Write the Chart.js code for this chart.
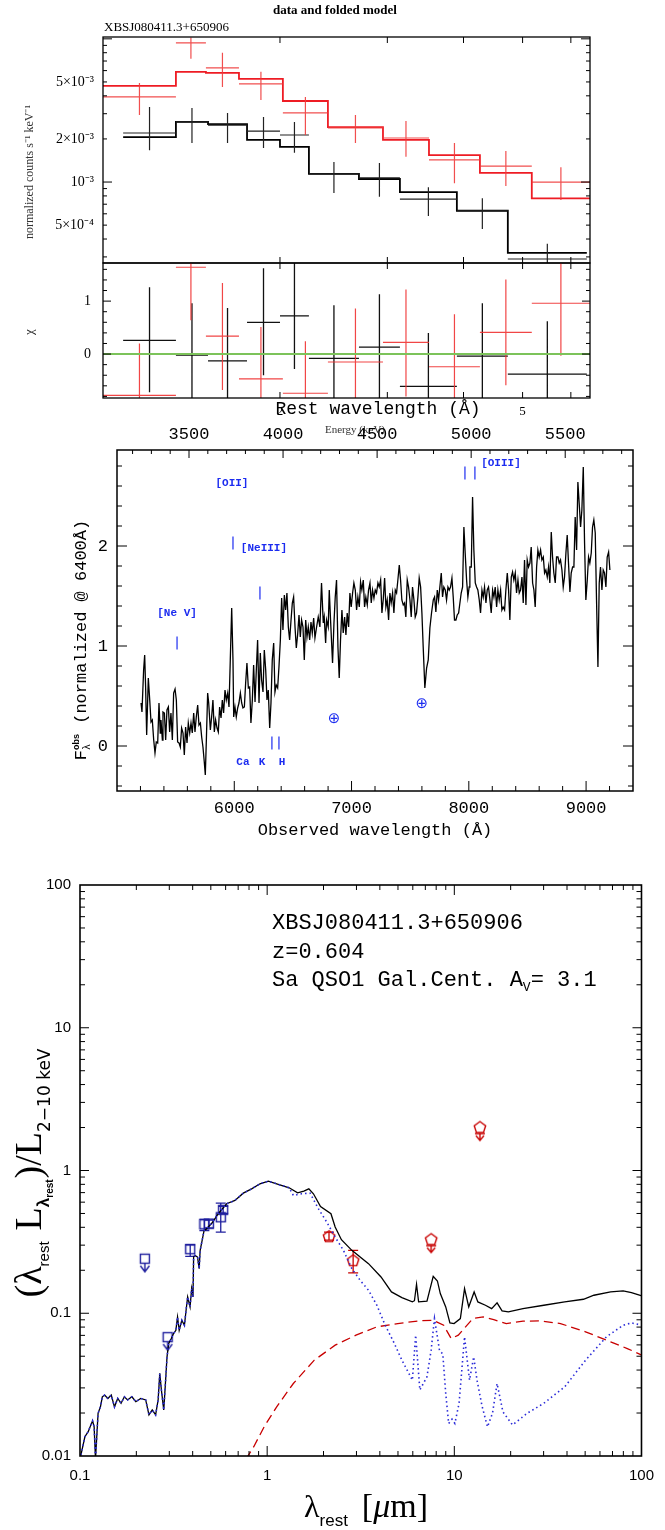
<!DOCTYPE html>
<html><head><meta charset="utf-8">
<script src="https://cdn.jsdelivr.net/npm/chart.js@4.4.1/dist/chart.umd.min.js"></script>
<style>
html,body{margin:0;padding:0;background:#fff;width:665px;height:1530px;overflow:hidden}
canvas{position:absolute;left:0}
</style></head><body>
<canvas id="cA" width="665" height="291" style="top:0px"></canvas>
<canvas id="cB" width="665" height="205" style="top:232px"></canvas>
<canvas id="cC" width="665" height="455" style="top:395px"></canvas>
<canvas id="cD" width="665" height="670" style="top:860px"></canvas>
<script>
// ---------------- X-ray spectrum (energy in keV) ----------------
const redEdges   = [1.025,1.350,1.512,1.713,2.022,2.397,2.951,3.511,4.256,5.177,6.45];
const redData    = [3.93e-3,9.38e-3,6.27e-3,4.84e-3,3.04e-3,2.39e-3,2.03e-3,1.43e-3,1.29e-3,1.00e-3];
const redErrHi   = [4.92e-3,1.02e-2,7.98e-3,5.88e-3,3.93e-3,2.94e-3,2.67e-3,1.87e-3,1.65e-3,1.27e-3];
const redErrLo   = [2.94e-3,7.25e-3,4.61e-3,3.74e-3,2.13e-3,1.87e-3,1.50e-3,0.98e-3,0.94e-3,0.75e-3];
const redModel   = [4.69e-3,5.88e-3,5.78e-3,5.25e-3,3.68e-3,2.42e-3,1.97e-3,1.54e-3,1.16e-3,0.77e-3];
const blackEdges = [1.106,1.350,1.524,1.766,2.000,2.231,2.695,3.146,3.901,4.729,6.373];
const blackData  = [2.20e-3,2.63e-3,2.50e-3,2.27e-3,2.13e-3,1.14e-3,1.07e-3,0.76e-3,0.63e-3,0.29e-3];
const blackErrHi = [3.34e-3,3.29e-3,3.04e-3,2.85e-3,2.63e-3,1.38e-3,1.36e-3,0.92e-3,0.77e-3,0.37e-3];
const blackErrLo = [1.67e-3,1.87e-3,1.87e-3,1.73e-3,1.60e-3,0.84e-3,0.79e-3,0.58e-3,0.47e-3,0.22e-3];
const blackModel = [2.06e-3,2.63e-3,2.54e-3,1.97e-3,1.76e-3,1.14e-3,1.05e-3,0.85e-3,0.63e-3,0.32e-3];
const blackRes   = [0.26,-0.02,-0.13,0.60,0.72,-0.08,0.13,-0.61,-0.04,-0.38];
const blackResHi = [1.26,0.96,0.87,1.62,1.75,0.92,1.13,0.40,0.96,0.62];
const blackResLo = [-0.72,-0.9,-0.9,-0.40,-0.28,-0.9,-0.9,-0.9,-0.9,-0.9];
const redRes     = [-0.78,1.64,0.34,-0.47,-0.74,-0.15,0.22,-0.24,0.41,0.96];
const redResHi   = [0.20,1.75,1.34,0.51,0.24,0.86,1.22,0.75,1.41,1.75];
const redResLo   = [-0.9,0.64,-0.68,-0.9,-0.9,-0.9,-0.80,-0.9,-0.59,-0.03];
const xrayYTicks  = [5e-4,1e-3,2e-3,5e-3];
const xrayYLabels = ['5×10⁻⁴','10⁻³','2×10⁻³','5×10⁻³'];
const energyTicks = [2,5];
const energyLabels = ['2','5'];
const resTicks = [0,1];

// ---------------- Optical spectrum ----------------
const Z = 0.604;
const specWave = [5205,5213,5227,5236,5244,5253,5267,5279,5290,5301,5313,5324,5335,5347,5358,5369,5375,5387,5392,5404,
5415,5426,5438,5449,5460,5472,5483,5495,5506,5517,5529,5540,5551,5563,5574,5585,5597,5608,5620,5631,
5642,5654,5665,5676,5688,5699,5711,5722,5733,5745,5753,5762,5773,5782,5796,5807,5818,5830,5841,5853,
5864,5875,5887,5898,5909,5921,5932,5944,5955,5966,5978,5989,5995,6006,6017,6029,6040,6052,6063,6074,
6086,6097,6108,6120,6131,6142,6154,6165,6177,6188,6199,6211,6222,6233,6245,6256,6268,6279,6290,6302,
6313,6324,6336,6347,6358,6370,6381,6393,6404,6415,6427,6438,6449,6461,6472,6484,6495,6506,6518,6529,
6540,6552,6563,6574,6586,6597,6609,6620,6631,6643,6654,6665,6677,6688,
6702,6716,6730,6744,6759,6767,6779,6787,6801,6810,6821,6838,6850,6861,6872,6884,6895,6906,6918,6929,
6941,6952,6963,6975,6986,6997,7009,7020,7032,7043,7054,7066,7077,7088,7100,7111,7122,7134,7145,7157,
7168,7179,7191,7202,7213,7225,7236,7248,7259,7270,7282,7293,7304,7316,7327,7338,7350,7361,7373,7384,
7395,7407,7418,7429,7441,7452,7463,7475,7486,7498,7509,7520,7532,7543,7554,7566,7577,7589,7600,7611,
7625,7640,7654,7668,7682,7697,7708,7719,7731,7742,7753,7765,7776,7787,7799,7810,7822,7833,7844,7856,
7867,7878,7890,7901,7913,7924,7935,7947,7958,7969,7981,7992,8003,
8009,8021,8032,8043,8055,8066,8077,8089,8100,8112,8123,8134,8146,8157,8168,8180,8191,8203,8214,8225,
8237,8248,8259,8271,8282,8293,8305,8316,8328,8339,8350,8362,8373,8384,8396,8407,8419,8430,8441,8453,
8464,8475,8487,8498,8509,8521,8532,8544,8555,8566,8578,8589,8600,8612,8623,8635,8646,8657,8669,8680,
8691,8703,8714,8725,8737,8748,8760,8771,8782,8794,8805,8816,8828,8839,8850,8862,8873,8885,8896,8907,
8919,8930,8941,8953,8964,8976,8987,8998,9010,9021,9032,9044,9055,9066,9078,9089,9101,9112,9123,9135,
9146,9157,9169,9180,9192,9203];
const specFlux = [0.43,0.34,0.76,0.91,0.59,0.11,0.68,0.46,0.24,0.26,0.06,-0.07,0.04,0.03,0.43,0.13,0.26,0.06,0.34,0.33,
0.06,0.36,0.39,0.14,0.33,0.06,0.53,0.57,0.46,0.04,0.03,-0.01,0.18,0.13,-0.09,0.19,0.03,0.23,0.13,0.23,
0.13,0.33,0.14,0.29,0.41,0.21,0.23,0.09,-0.01,-0.17,-0.29,0.06,0.53,0.43,0.16,0.29,0.46,0.14,0.26,0.18,
0.14,0.39,0.28,0.46,0.33,0.56,0.46,0.53,0.39,0.86,1.38,0.86,0.29,0.39,0.29,0.38,0.43,0.53,0.43,0.38,
0.39,0.63,0.83,0.58,0.59,0.23,0.46,0.81,0.44,0.76,1.06,0.43,0.93,0.66,0.54,0.96,0.76,0.46,0.56,0.18,
0.43,0.86,1.03,0.54,0.61,0.58,0.79,1.06,1.48,1.16,1.51,1.36,1.53,1.19,1.06,1.26,1.43,1.49,1.19,0.98,
1.11,1.31,1.09,1.26,1.19,0.86,1.26,1.09,1.19,1.06,1.24,1.13,1.28,1.08,
1.19,1.29,1.19,1.63,1.23,1.29,1.03,1.26,1.19,1.56,1.26,0.83,1.23,1.49,1.66,0.99,0.68,1.06,1.36,1.13,
1.29,1.11,1.33,1.19,1.53,1.39,1.53,1.63,1.56,1.36,1.49,1.39,1.64,1.56,1.66,1.39,1.49,1.41,1.56,1.63,
1.43,1.56,1.48,1.56,1.53,1.63,1.59,1.66,1.33,1.46,1.68,1.39,1.46,1.26,1.53,1.43,1.53,1.33,1.56,1.53,
1.66,1.81,1.66,1.46,1.41,1.43,1.29,1.66,1.59,1.46,1.29,1.59,1.46,1.29,1.33,1.49,1.68,1.59,1.33,0.99,
0.58,0.78,0.86,1.18,1.33,1.46,1.49,1.34,1.56,1.46,1.59,1.73,1.49,1.59,1.56,1.46,1.59,1.56,1.59,1.68,
1.49,1.26,1.26,1.31,1.33,1.43,1.53,1.59,2.19,1.93,1.66,1.49,1.59,
1.79,1.79,2.49,1.96,1.63,1.59,1.56,1.46,1.33,1.56,1.49,1.59,1.43,1.56,1.59,1.46,1.33,1.56,1.49,1.59,
1.39,1.56,1.46,1.56,1.36,1.39,1.36,1.56,1.73,1.56,1.26,1.69,1.74,1.66,1.73,1.53,1.66,1.53,1.56,1.69,
1.43,1.86,1.41,1.86,1.79,1.83,1.99,1.63,1.56,1.39,1.79,1.96,1.89,1.96,1.86,1.89,1.73,1.76,1.69,1.79,
1.63,2.14,1.89,1.73,1.63,1.89,1.89,1.83,1.86,1.76,1.59,1.69,1.93,2.11,1.83,1.54,1.73,1.79,1.79,2.29,
1.96,2.64,2.43,2.19,2.36,2.79,2.03,1.46,1.66,1.89,1.83,1.93,2.19,2.26,2.13,1.46,0.79,1.63,1.79,1.56,
1.76,1.73,1.59,1.89,1.94,1.76];
const obsTicks  = [6000,7000,8000,9000];
const restTicks = [3500,4000,4500,5000,5500];
const fluxTicks = [0,1,2];
const annoText  = ['[Ne V]','[OII]','[NeIII]','Ca','K','H','[OIII]'];
const annoWave  = [5512,5980,6253,6074,6236,6407,8274];
const annoFlux  = [1.33,2.63,1.98,-0.16,-0.16,-0.16,2.83];
const lineMarkWave = [5512,5989,6219,6321,6381,7967,8052];
const lineMarkFlux = [1.03,2.03,1.53,0.03,0.03,2.73,2.73];
const telluricWave = [6850,7600];
const telluricFlux = [0.27,0.42];

// ---------------- SED ----------------
const sedWave = [0.100,0.1062,0.1106,0.1167,0.119,0.121,0.1249,0.1286,0.1316,0.1354,
0.1409,0.1469,0.1528,0.1591,0.1657,0.1726,0.1796,0.1893,0.1987,0.2112,
0.2244,0.2336,0.2432,0.2535,0.2615,0.2668,0.2723,0.2802,0.2860,0.2917,
0.2978,0.3075,0.3162,0.3252,0.332,0.3388,0.3499,0.3614,0.3688,0.3760,
0.3873,0.3949,0.4015,0.4046,0.4113,0.4246,0.4333,0.4385,0.4494,0.4603,
0.4696,0.5072,0.548,0.6072,0.6729,0.7455,0.826,0.9156,1.0146,1.124,1.311,
1.454,1.570,1.670,1.767,1.928,2.192,
2.308,2.493,2.834,3.479,4.058,4.615,5.247,5.968,6.122,6.281,
6.444,7.142,7.714,8.120,8.416,8.997,9.471,9.97,10.77,11.34,
11.94,12.76,13.36,14.66,15.83,16.92,17.99,19.44,23.27,30.07,
38.88,48.98,55.7,68.4,79.8,88.4,100.5];
const sedTotal = [0.0095,0.01364,0.0148,0.01766,0.0160,0.0095,0.0199,0.0221,0.0260,0.0267,
0.0253,0.0267,0.0221,0.0253,0.0234,0.0260,0.0247,0.0260,0.0240,0.0253,
0.0247,0.0194,0.0210,0.0194,0.0247,0.0379,0.0289,0.0210,0.0322,0.0495,
0.0614,0.0665,0.0721,0.0760,0.0942,0.0760,0.0893,0.0824,0.1050,0.1300,
0.1107,0.1489,0.1300,0.2475,0.2544,0.2475,0.2054,0.2759,0.3239,0.3805,
0.3847,0.4285,0.4979,0.5848,0.617,0.694,0.744,0.807,0.842,0.807,0.757,
0.698,0.717,0.744,0.687,0.560,0.4979,
0.4016,0.3276,0.2759,0.2226,0.1795,0.1411,0.1288,0.1201,0.1224,0.1596,
0.1201,0.1217,0.1815,0.1683,0.1373,0.1108,0.0856,0.0847,0.0918,0.1488,
0.1108,0.1411,0.1201,0.1138,0.1078,0.1182,0.1039,0.1022,0.1078,0.1138,
0.1201,0.1253,0.1337,0.1411,0.1433,0.1396,0.1322];
const galWave = sedWave.slice(0,61).concat([1.380,1.530,1.696,1.878,2.082,2.308,2.556,2.834,3.140,3.479,
3.856,4.272,4.735,5.247,5.968,6.216,6.544,7.142,7.518,7.834,8.331,8.679,8.997,9.326,9.72,10.07,10.60,11.34,11.69,12.06,
12.69,13.22,14.06,15.04,15.99,16.92,18.18,20.46,24.49,30.07,38.88,50.25,64.97,79.8,88.4,100.5]);
const galFlux = sedTotal.slice(0,61).concat([0.669,0.687,0.694,0.540,0.435,0.342,0.2759,0.2053,0.1702,0.1449,
0.1138,0.0824,0.0631,0.0469,0.0340,0.0702,0.0290,0.0359,0.0551,0.0918,0.0551,0.0517,0.0274,0.0169,0.0181,0.0169,0.0234,0.0684,0.0482,0.0340,
0.0495,0.0340,0.0224,0.0160,0.0199,0.0322,0.0204,0.0165,0.0199,0.0234,0.0305,0.0469,0.0684,0.0824,0.0856,0.0824]);
const torusWave = [0.77,0.848,0.964,1.124,1.380,1.785,2.308,2.983,3.856,4.985,6.444,7.714,8.77,9.62,10.50,12.56,14.28,16.24,18.95,23.27,28.57,36.93,50.25,68.4,84.0,100.5];
const torusFlux = [0.0095,0.01162,0.01604,0.0221,0.0322,0.0469,0.0598,0.0702,0.0803,0.0847,0.0884,0.0894,0.0824,0.0665,0.0702,0.0918,0.0943,0.0903,0.0847,0.0880,0.0884,0.0847,0.0741,0.0631,0.0566,0.0509];
const optWave = [0.388,0.462,0.488,0.565,0.582];
const optVal  = [0.281,0.420,0.425,0.470,0.530];
const optLo   = [0.250,0.380,0.395,0.370,0.500];
const optHi   = [0.302,0.455,0.450,0.590,0.560];
const optLimWave = [0.222,0.294];
const optLimVal  = [0.241,0.068];
const irWave = [2.14,2.88];
const irVal  = [0.346,0.235];
const irLo   = [0.325,0.192];
const irHi   = [0.370,0.276];
const irLimWave = [7.52,13.7];
const irLimVal  = [0.328,2.0];
const sedXTicks = [0.1,1,10,100];
const sedXLabels = ['0.1','1','10','100'];
const sedYTicks = [0.01,0.1,1,10,100];
const sedYLabels = ['0.01','0.1','1','10','100'];

// ---------------- helpers ----------------
const BLUE_TXT = '#1c2cf0', BLUE = '#1f1f9e', RED = '#c80000';
const pts = (xs, ys) => xs.map((x,i)=>({x:x, y:ys[i]}));
function stepLine(edges, vals){ const p=[]; vals.forEach((v,i)=>{p.push({x:edges[i],y:v},{x:edges[i+1],y:v});}); return p; }
function crossSegs(edges, vals, lo, hi){ const p=[]; vals.forEach((v,i)=>{ const c=Math.sqrt(edges[i]*edges[i+1]);
  p.push({x:edges[i],y:v},{x:edges[i+1],y:v},{x:edges[i+1],y:null},{x:c,y:lo[i]},{x:c,y:hi[i]},{x:c,y:null}); }); return p; }
const fixW = w => s => { s.width = w; };
const fixH = h => s => { s.height = h; };
const setTicks = arr => s => { s.ticks = arr.map(v=>({value:v})); };
function logT(min,max,maj,mnr){ const o=[]; for(let e=Math.floor(Math.log10(min))-1;e<=Math.ceil(Math.log10(max));e++){ for(let k=1;k<10;k++){ const v=k*Math.pow(10,e); if(v>=min*0.999&&v<=max*1.001) o.push([v,k===1?maj:mnr]); } } return o; }
function linT(min,max,step,majStep,maj,mnr){ const o=[]; for(let k=Math.ceil(min/step-1e-9);k*step<=max+1e-9;k++){ const v=k*step; const r=v/majStep; o.push([v,Math.abs(r-Math.round(r))<1e-6?maj:mnr]); } return o; }
function framePlugin(cfg){ return { id:'frame', afterDraw(chart){ const ctx=chart.ctx, a=chart.chartArea;
  const xs=chart.scales.x, ys=chart.scales.y, ts=cfg.topScale?chart.scales[cfg.topScale]:xs;
  ctx.save(); ctx.strokeStyle='#000'; ctx.lineWidth=cfg.lw||1.5;
  ctx.strokeRect(a.left,a.top,a.right-a.left,a.bottom-a.top);
  ctx.lineWidth=cfg.tw||1; ctx.beginPath();
  (cfg.bottom||[]).forEach(([v,l])=>{const p=xs.getPixelForValue(v); if(p<a.left+1||p>a.right-1)return; ctx.moveTo(p,a.bottom); ctx.lineTo(p,a.bottom-l);});
  (cfg.top||[]).forEach(([v,l])=>{const p=ts.getPixelForValue(v); if(p<a.left+1||p>a.right-1)return; ctx.moveTo(p,a.top); ctx.lineTo(p,a.top+l);});
  (cfg.left||[]).forEach(([v,l])=>{const p=ys.getPixelForValue(v); if(p<a.top+1||p>a.bottom-1)return; ctx.moveTo(a.left,p); ctx.lineTo(a.left+l,p);});
  (cfg.right||[]).forEach(([v,l])=>{const p=ys.getPixelForValue(v); if(p<a.top+1||p>a.bottom-1)return; ctx.moveTo(a.right,p); ctx.lineTo(a.right-l,p);});
  ctx.stroke(); ctx.restore(); } }; }
function txt(ctx,s,x,y,font,color,align,base,rot){ ctx.save(); ctx.translate(x,y); if(rot) ctx.rotate(rot);
  ctx.font=font; ctx.fillStyle=color||'#000'; ctx.textAlign=align||'left'; ctx.textBaseline=base||'alphabetic'; ctx.fillText(s,0,0); ctx.restore(); }
function rich(ctx,parts,x,y,rot,align,color){ ctx.save(); ctx.translate(x,y); if(rot) ctx.rotate(rot);
  ctx.textAlign='left'; ctx.textBaseline='alphabetic'; ctx.fillStyle=color||'#000';
  let w=0; parts.forEach(p=>{ctx.font=p.f; if(p.adv!==false) w+=ctx.measureText(p.t).width+(p.gap||0);});
  let cx = align==='left'?0:-w/2;
  parts.forEach(p=>{ctx.font=p.f; ctx.fillText(p.t,cx,p.dy||0); if(p.adv!==false) cx+=ctx.measureText(p.t).width+(p.gap||0);});
  ctx.restore(); }
const baseOpts = () => ({ animation:false, responsive:false, events:[], plugins:{legend:{display:false}, tooltip:{enabled:false}} });
const tickFont = (fam,size) => ({font:{family:fam,size:size}, color:'#000', autoSkip:false, maxRotation:0});
const noGrid = {display:false, drawTicks:false};

// ---------------- Chart A : data and folded model ----------------
const eTicks = [[2,6],[3,6],[4,6],[5,6],[6,6]];
new Chart(document.getElementById('cA'), {
  type:'scatter',
  data:{datasets:[
    {data:crossSegs(redEdges,redData,redErrLo,redErrHi), showLine:true, spanGaps:false, borderColor:'rgba(240,60,60,0.9)', borderWidth:1.2, pointRadius:0},
    {data:stepLine(redEdges,redModel), showLine:true, borderColor:'#ee1c24', borderWidth:1.8, pointRadius:0},
    {data:crossSegs(blackEdges,blackData,blackErrLo,blackErrHi), showLine:true, spanGaps:false, borderColor:'#222', borderWidth:1.2, pointRadius:0},
    {data:stepLine(blackEdges,blackModel), showLine:true, borderColor:'#000', borderWidth:1.8, pointRadius:0}
  ]},
  options:Object.assign(baseOpts(), {
    layout:{padding:{left:0,right:75,top:37,bottom:28}},
    scales:{
      x:{type:'logarithmic', min:1.025, max:6.45, display:false},
      y:{type:'logarithmic', min:2.72e-4, max:1.03e-2, afterFit:fixW(103), afterBuildTicks:setTicks(xrayYTicks),
         grid:noGrid, border:{display:false}, ticks:Object.assign(tickFont('Liberation Serif',14),{padding:9, callback:(v,i)=>xrayYLabels[i]})}
    }
  }),
  plugins:[framePlugin({lw:1.3, bottom:eTicks, top:eTicks, left:logT(2.72e-4,1.03e-2,9,4), right:logT(2.72e-4,1.03e-2,9,4)}),
    {id:'decorA', afterDraw(chart){ const ctx=chart.ctx;
      txt(ctx,'data and folded model',335,14,'bold 13px Liberation Serif','#000','center');
      txt(ctx,'XBSJ080411.3+650906',104,31,'13px Liberation Serif','#000','left');
      txt(ctx,'normalized counts s⁻¹ keV⁻¹',33,172,'12px Liberation Serif','#333','center','alphabetic',-Math.PI/2);
    }}]
});

// ---------------- Chart B : residuals ----------------
new Chart(document.getElementById('cB'), {
  type:'scatter',
  data:{datasets:[
    {data:[{x:1.025,y:0},{x:6.45,y:0}], showLine:true, borderColor:'#7cc35a', borderWidth:2, pointRadius:0},
    {data:crossSegs(redEdges,redRes,redResLo,redResHi), showLine:true, spanGaps:false, borderColor:'rgba(240,50,50,0.9)', borderWidth:1.2, pointRadius:0},
    {data:crossSegs(blackEdges,blackRes,blackResLo,blackResHi), showLine:true, spanGaps:false, borderColor:'#111', borderWidth:1.3, pointRadius:0}
  ]},
  options:Object.assign(baseOpts(), {
    layout:{padding:{left:0,right:75,top:31,bottom:0}},
    scales:{
      x:{type:'logarithmic', min:1.025, max:6.45, afterFit:fixH(39), afterBuildTicks:setTicks(energyTicks), grid:noGrid, border:{display:false},
         ticks:Object.assign(tickFont('Liberation Serif',13),{padding:6, callback:(v,i)=>energyLabels[i]})},
      y:{type:'linear', min:-0.83, max:1.72, afterFit:fixW(103), afterBuildTicks:setTicks(resTicks), grid:noGrid, border:{display:false},
         ticks:Object.assign(tickFont('Liberation Serif',14),{padding:12, callback:v=>String(v)})}
    }
  }),
  plugins:[framePlugin({lw:1.3, bottom:eTicks, top:eTicks, left:linT(-0.83,1.72,0.2,1,8,4), right:linT(-0.83,1.72,0.2,1,8,4)}),
    {id:'decorB', afterDraw(chart){ const ctx=chart.ctx;
      txt(ctx,'χ',33,100,'13px Liberation Serif','#222','center','alphabetic',-Math.PI/2);
      txt(ctx,'Energy (keV)',355,201,'11px Liberation Serif','#333','center');
    }}]
});

// ---------------- Chart C : optical spectrum ----------------
new Chart(document.getElementById('cC'), {
  type:'scatter',
  data:{datasets:[
    {data:pts(specWave,specFlux), showLine:true, borderColor:'#000', borderWidth:1.3, pointRadius:0, xAxisID:'x', yAxisID:'y'}
  ]},
  options:Object.assign(baseOpts(), {
    layout:{padding:{left:0,right:32,top:0,bottom:0}},
    scales:{
      x:{type:'linear', position:'bottom', min:5000, max:9400, afterFit:fixH(59), afterBuildTicks:setTicks(obsTicks), grid:noGrid, border:{display:false},
         ticks:Object.assign(tickFont('Liberation Mono',17),{padding:7, callback:v=>String(v)})},
      x2:{type:'linear', position:'top', min:5000/(1+Z), max:9400/(1+Z), afterFit:fixH(55), afterBuildTicks:setTicks(restTicks), grid:noGrid, border:{display:false},
         ticks:Object.assign(tickFont('Liberation Mono',17),{padding:5, callback:v=>String(v)})},
      y:{type:'linear', min:-0.45, max:2.96, afterFit:fixW(117), afterBuildTicks:setTicks(fluxTicks), grid:noGrid, border:{display:false},
         ticks:Object.assign(tickFont('Liberation Mono',17),{padding:9, callback:v=>String(v)})}
    }
  }),
  plugins:[framePlugin({lw:1.5, topScale:'x2', bottom:linT(5000,9400,200,1000,10,5), top:linT(5000/(1+Z),9400/(1+Z),100,500,8,4),
      left:linT(-0.45,2.96,0.2,1,10,5), right:linT(-0.45,2.96,0.2,1,10,5)}),
    {id:'decorC', afterDraw(chart){ const ctx=chart.ctx, xs=chart.scales.x, ys=chart.scales.y;
      annoText.forEach((t,i)=>txt(ctx,t,xs.getPixelForValue(annoWave[i]),ys.getPixelForValue(annoFlux[i]),'bold 11px Liberation Mono',BLUE_TXT,'center','middle'));
      ctx.save(); ctx.strokeStyle=BLUE_TXT; ctx.lineWidth=1.2;
      lineMarkWave.forEach((w,i)=>{ const X=xs.getPixelForValue(w), Y=ys.getPixelForValue(lineMarkFlux[i]); ctx.beginPath(); ctx.moveTo(X,Y-6.5); ctx.lineTo(X,Y+6.5); ctx.stroke(); });
      ctx.restore();
      telluricWave.forEach((w,i)=>txt(ctx,'⊕',xs.getPixelForValue(w),ys.getPixelForValue(telluricFlux[i]),'15px DejaVu Sans',BLUE_TXT,'center','middle'));
      txt(ctx,'Rest wavelength (Å)',378,19,'18px Liberation Mono','#000','center');
      txt(ctx,'Observed wavelength (Å)',375,440,'17px Liberation Mono','#000','center');
      rich(ctx,[{t:'F',f:'17px Liberation Mono'},{t:'λ',f:'10px Liberation Mono',dy:4,adv:false},{t:'obs',f:'bold 9px Liberation Sans',dy:-7,gap:0},
        {t:' (normalized @ 6400Å)',f:'17px Liberation Mono'}],86,245,-Math.PI/2,'center');
    }}]
});

// ---------------- Chart D : SED ----------------
function mk(w,h,draw){ const c=document.createElement('canvas'); c.width=w; c.height=h; const g=c.getContext('2d'); draw(g); return c; }
function pent(g,cx,cy,r){ g.beginPath(); for(let k=0;k<5;k++){ const an=-Math.PI/2+k*2*Math.PI/5; const X=cx+r*Math.cos(an), Y=cy+r*Math.sin(an); if(k) g.lineTo(X,Y); else g.moveTo(X,Y);} g.closePath(); g.stroke(); }
const imgSquare = mk(12,12,g=>{g.strokeStyle=BLUE; g.lineWidth=1.4; g.strokeRect(1.5,1.5,9,9);});
const imgSquareLim = mk(14,36,g=>{g.strokeStyle=BLUE; g.lineWidth=1.4; g.strokeRect(2.5,13.5,9,9);
  g.beginPath(); g.moveTo(7,22.5); g.lineTo(7,31); g.moveTo(2.5,25); g.lineTo(7,31); g.lineTo(11.5,25); g.stroke();});
const imgPent = mk(16,16,g=>{g.strokeStyle=RED; g.lineWidth=1.4; pent(g,8,8.5,6);});
const imgPentLim = mk(16,40,g=>{g.strokeStyle=RED; g.lineWidth=1.4; pent(g,8,20,6);
  g.beginPath(); g.moveTo(3,26); g.lineTo(13,26); g.moveTo(8,26); g.lineTo(8,33); g.moveTo(4,28); g.lineTo(8,33); g.lineTo(12,28); g.stroke();});
const errPlugin = {id:'errbars', beforeDatasetsDraw(chart){ const ctx=chart.ctx, xs=chart.scales.x, ys=chart.scales.y;
  chart.data.datasets.forEach(ds=>{ if(!ds.errLo) return; ctx.save(); ctx.strokeStyle=ds.errColor; ctx.lineWidth=1.3; ctx.beginPath();
    ds.data.forEach((p,i)=>{ const X=xs.getPixelForValue(p.x), y1=ys.getPixelForValue(ds.errLo[i]), y2=ys.getPixelForValue(ds.errHi[i]);
      ctx.moveTo(X,y1); ctx.lineTo(X,y2); ctx.moveTo(X-5,y1); ctx.lineTo(X+5,y1); ctx.moveTo(X-5,y2); ctx.lineTo(X+5,y2); });
    ctx.stroke(); ctx.restore(); }); }};
new Chart(document.getElementById('cD'), {
  type:'scatter',
  data:{datasets:[
    {data:pts(galWave,galFlux), showLine:true, borderColor:'#2a2ad8', borderWidth:1.6, borderDash:[1.5,3], pointRadius:0},
    {data:pts(torusWave,torusFlux), showLine:true, borderColor:RED, borderWidth:1.3, borderDash:[9,5], pointRadius:0},
    {data:pts(sedWave,sedTotal), showLine:true, borderColor:'#000', borderWidth:1.3, pointRadius:0},
    {data:pts(optWave,optVal), showLine:false, pointStyle:imgSquare, pointRadius:5, errLo:optLo, errHi:optHi, errColor:BLUE},
    {data:pts(optLimWave,optLimVal), showLine:false, pointStyle:imgSquareLim, pointRadius:5},
    {data:pts(irWave,irVal), showLine:false, pointStyle:imgPent, pointRadius:5, errLo:irLo, errHi:irHi, errColor:RED},
    {data:pts(irLimWave,irLimVal), showLine:false, pointStyle:imgPentLim, pointRadius:5}
  ]},
  options:Object.assign(baseOpts(), {
    layout:{padding:{left:0,right:15,top:25,bottom:0}},
    scales:{
      x:{type:'logarithmic', min:0.1, max:100, afterFit:fixH(74), afterBuildTicks:setTicks(sedXTicks), grid:noGrid, border:{display:false},
         ticks:Object.assign(tickFont('Liberation Sans',15),{padding:11, callback:(v,i)=>sedXLabels[i]})},
      y:{type:'logarithmic', min:0.01, max:100, afterFit:fixW(80), afterBuildTicks:setTicks(sedYTicks), grid:noGrid, border:{display:false},
         ticks:Object.assign(tickFont('Liberation Sans',15),{padding:9, callback:(v,i)=>sedYLabels[i]})}
    }
  }),
  plugins:[errPlugin, framePlugin({lw:1.6, bottom:logT(0.1,100,10,5), top:logT(0.1,100,10,5), left:logT(0.01,100,9,5), right:logT(0.01,100,9,5)}),
    {id:'decorD', afterDraw(chart){ const ctx=chart.ctx;
      txt(ctx,'XBSJ080411.3+650906',272,69,'22px Liberation Mono','#000','left');
      txt(ctx,'z=0.604',272,98,'22px Liberation Mono','#000','left');
      rich(ctx,[{t:'Sa QSO1 Gal.Cent. A',f:'22px Liberation Mono'},{t:'V',f:'13px Liberation Mono',dy:5},{t:'= 3.1',f:'22px Liberation Mono'}],272,126,0,'left');
      rich(ctx,[{t:'λ',f:'32px Liberation Serif'},{t:'rest',f:'17px Liberation Sans',dy:9,gap:14},{t:'[',f:'34px Liberation Serif'},{t:'μ',f:'italic 34px Liberation Serif'},{t:'m]',f:'34px Liberation Serif'}],366,657,0,'center');
      rich(ctx,[{t:'(',f:'38px Liberation Serif'},{t:'λ',f:'38px Liberation Serif'},{t:'rest',f:'15px Liberation Sans',dy:8,gap:11},
        {t:'L',f:'38px Liberation Serif'},{t:'λ',f:'bold 17px Liberation Sans',dy:8},{t:'rest',f:'bold 10px Liberation Sans',dy:12,gap:1},
        {t:')',f:'38px Liberation Serif'},{t:'/',f:'38px Liberation Serif'},{t:'L',f:'38px Liberation Serif'},{t:'2−10 keV',f:'17px DejaVu Sans',dy:9}],41,313,-Math.PI/2,'center');
    }}]
});
</script>
</body></html>
